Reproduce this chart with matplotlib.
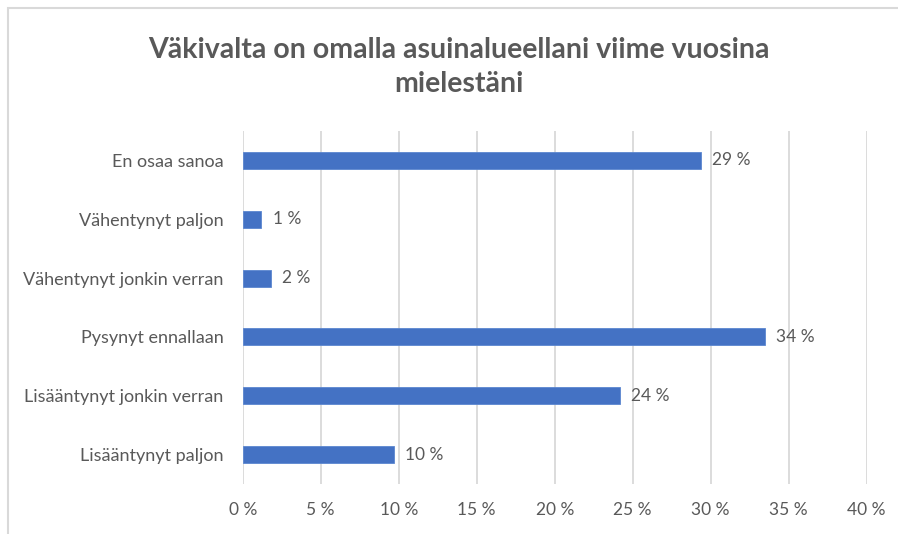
import matplotlib
matplotlib.use("Agg")
import matplotlib.pyplot as plt
from matplotlib.patches import Rectangle

# Data (ylhäältä alas)
categories = [
    "En osaa sanoa",
    "Vähentynyt paljon",
    "Vähentynyt jonkin verran",
    "Pysynyt ennallaan",
    "Lisääntynyt jonkin verran",
    "Lisääntynyt paljon",
]
values = [29.4, 1.2, 1.8, 33.5, 24.2, 9.7]
value_labels = ["29 %", "1 %", "2 %", "34 %", "24 %", "10 %"]
x_ticks = [0, 5, 10, 15, 20, 25, 30, 35, 40]
x_tick_labels = [f"{t} %" for t in x_ticks]
title = "Väkivalta on omalla asuinalueellani viime vuosina\nmielestäni"

plt.rcParams["font.family"] = ["Lato", "DejaVu Sans"]
text_color = "#595959"
bar_color = "#4472C4"
grid_color = "#D9D9D9"

W, H = 898, 534
fig = plt.figure(figsize=(W / 100, H / 100), dpi=100)

# Ulkokehys (vain vasen ja ylä näkyy)
fig.patches.append(Rectangle((8 / W, -0.1), 1.2, (H - 8) / H + 0.1,
                             transform=fig.transFigure, fill=False,
                             edgecolor=grid_color, linewidth=1.5))

ax = fig.add_axes([242.7 / W, 1 - 484 / H, (866.7 - 242.7) / W, (484 - 131) / H])

y = list(range(len(categories)))[::-1]
ax.barh(y, values, height=0.29, color=bar_color, edgecolor="#5B86D0",
        linewidth=0.6, zorder=3)

for yi, v, lab in zip(y, values, value_labels):
    ax.annotate(lab, (v, yi), xytext=(8, 0), textcoords="offset points",
                va="center", ha="left", fontsize=12.5, color=text_color)

ax.set_xlim(0, 40)
ax.set_ylim(-0.5, len(categories) - 0.5)
ax.set_yticks(y)
ax.set_yticklabels(categories, fontsize=13, color=text_color)
ax.set_xticks(x_ticks)
ax.set_xticklabels(x_tick_labels, fontsize=12.5, color=text_color)
ax.tick_params(axis="both", length=0)
ax.tick_params(axis="y", pad=14)
ax.tick_params(axis="x", pad=13)

ax.grid(axis="x", color=grid_color, linewidth=1.3, zorder=0)
for s in ax.spines.values():
    s.set_visible(False)

fig.text(459 / W, 1 - 67 / H, title, ha="center", va="center",
         fontsize=20.5, color=text_color, fontweight="bold", linespacing=1.4)

fig.savefig("out.png", dpi=100)
